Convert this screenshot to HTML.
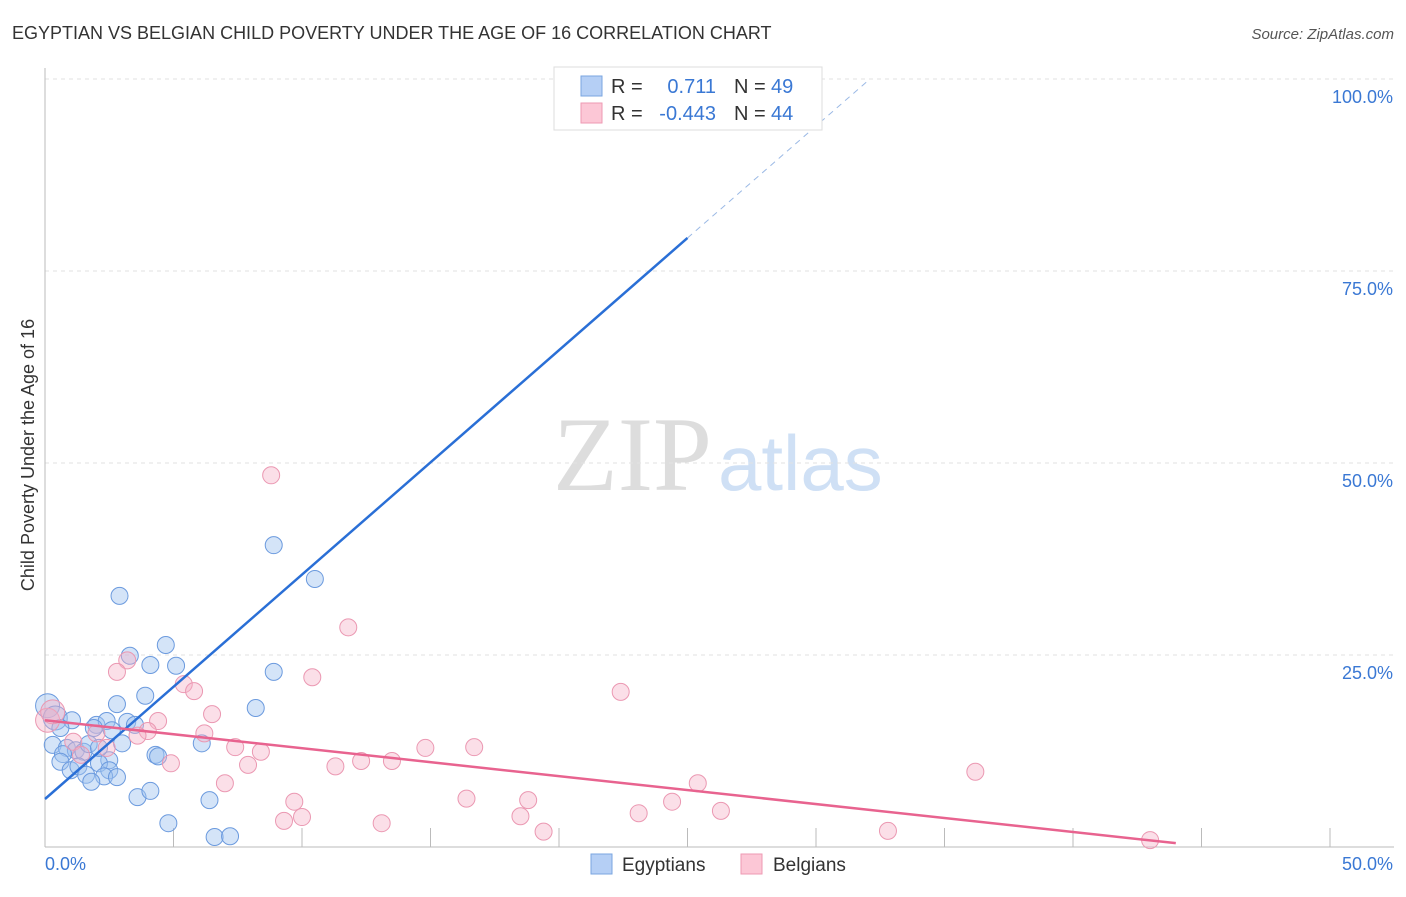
<!DOCTYPE html><html><head><meta charset="utf-8"><style>
body{margin:0;background:#fff;font-family:"Liberation Sans",sans-serif}
</style></head><body>
<svg width="1406" height="892" xmlns="http://www.w3.org/2000/svg" font-family="Liberation Sans, sans-serif">
<text x="12" y="39" font-size="18" fill="#333">EGYPTIAN VS BELGIAN CHILD POVERTY UNDER THE AGE OF 16 CORRELATION CHART</text>
<text x="1394" y="39" font-size="15" fill="#555" font-style="italic" text-anchor="end">Source: ZipAtlas.com</text>
<text x="553" y="490" font-size="106" fill="#ddd" font-family="Liberation Serif, serif">ZIP</text>
<text x="718" y="490" font-size="78" fill="#cfe0f5">atlas</text>
<g id="grid"></g><g id="axes"></g><g id="pts"></g><g id="lines"></g>
<text transform="translate(34,455) rotate(-90)" font-size="18" fill="#333" text-anchor="middle">Child Poverty Under the Age of 16</text>
<text x="45" y="870" font-size="18" fill="#3a78d4">0.0%</text>
<text x="1393" y="870" font-size="18" fill="#3a78d4" text-anchor="end">50.0%</text>
<g>
<rect x="554" y="67" width="268" height="63" fill="#fff" stroke="#ddd"/>
<rect x="581" y="76" width="21" height="20" fill="#b5cff5" stroke="#7aa6e0"/>
<rect x="581" y="103" width="21" height="20" fill="#fcc7d6" stroke="#ee9ab3"/>
<text x="611" y="93" font-size="20" fill="#333">R =</text><text x="716" y="93" font-size="20" fill="#3a78d4" text-anchor="end">0.711</text>
<text x="734" y="93" font-size="20" fill="#333">N =</text><text x="771" y="93" font-size="20" fill="#3a78d4">49</text>
<text x="611" y="120" font-size="20" fill="#333">R =</text><text x="716" y="120" font-size="20" fill="#3a78d4" text-anchor="end">-0.443</text>
<text x="734" y="120" font-size="20" fill="#333">N =</text><text x="771" y="120" font-size="20" fill="#3a78d4">44</text>
</g>
<g>
<rect x="591" y="854" width="21" height="20" fill="#b5cff5" stroke="#7aa6e0"/>
<text x="622" y="871" font-size="19" fill="#333">Egyptians</text>
<rect x="741" y="854" width="21" height="20" fill="#fcc7d6" stroke="#ee9ab3"/>
<text x="773" y="871" font-size="19" fill="#333">Belgians</text>
</g>
</svg>
<script>
const blueX=[20.4,8.9,10.5,2.9,4.7,3.3,4.1,5.1,8.9,3.9,2.8,8.2,0.1,0.4,1.05,2.0,2.4,3.2,3.5,1.9,6.1,3.0,0.3,0.85,1.2,1.5,0.7,0.6,2.5,2.1,4.3,4.4,1.0,1.3,2.5,2.3,2.8,1.6,1.8,3.6,4.1,6.4,4.8,6.6,7.2,1.7,0.6,2.6,2.1];
const blueY=[100,39.3,34.9,32.7,26.3,24.9,23.7,23.6,22.8,19.7,18.6,18.1,18.4,16.8,16.5,15.9,16.4,16.3,15.9,15.5,13.5,13.5,13.3,12.9,12.6,12.4,12.1,11.1,11.3,10.9,12.0,11.8,10.0,10.5,10.0,9.2,9.1,9.4,8.5,6.5,7.3,6.1,3.1,1.3,1.4,13.4,15.5,15.2,12.9];
const pinkX=[8.8,11.8,22.4,10.4,3.2,2.8,5.4,5.8,6.5,4.4,4.0,3.6,6.2,2.0,1.1,7.4,8.4,14.8,16.7,2.4,0.1,0.3,4.9,7.9,11.3,12.3,13.5,36.2,25.4,7.0,9.7,16.4,18.8,24.4,26.3,23.1,18.5,10.0,9.3,13.1,19.4,32.8,43.0,1.4];
const pinkY=[48.4,28.6,20.2,22.1,24.3,22.8,21.2,20.3,17.3,16.4,15.1,14.5,14.8,14.8,13.7,13.0,12.4,12.9,13.0,12.9,16.5,17.6,10.9,10.7,10.5,11.2,11.2,9.8,8.3,8.3,5.9,6.3,6.1,5.9,4.7,4.4,4.0,3.9,3.4,3.1,2.0,2.1,0.9,12.0];
const yTicks=[25,50,75,100];
const xTicks=[5,10,15,20,25,30,35,40,45,50];
const blueLine=[0,6.25,25,79.3,32.1,100];
const pinkLine=[0,16.5,44,0.5];
const NS="http://www.w3.org/2000/svg";
const sx=v=>45+v*25.7, sy=v=>847-v*7.68;
function mk(t,a,p){const e=document.createElementNS(NS,t);for(const k in a)e.setAttribute(k,a[k]);document.getElementById(p).appendChild(e);return e;}
yTicks.forEach(t=>{const l=mk('line',{x1:45,x2:1394,y1:sy(t),y2:sy(t),stroke:'#e2e2e2','stroke-dasharray':'4,4'},'grid');


const tx=mk('text',{x:1393,y:sy(t)+24,'font-size':18,fill:'#3a78d4','text-anchor':'end'},'grid');tx.textContent=t.toFixed(1)+'%';

});
mk('line',{x1:45,x2:45,y1:68,y2:847,stroke:'#bbb'},'axes');
mk('line',{x1:45,x2:1394,y1:847,y2:847,stroke:'#bbb'},'axes');
xTicks.forEach(t=>{const l=mk('line',{x1:sx(t),x2:sx(t),y1:828,y2:847,stroke:'#bbb'},'axes');

});
function pts(X,Y,f,s,n){X.forEach((x,i)=>{const big=(x<0.5&&Y[i]>15);const c=mk('circle',{cx:sx(x),cy:sy(Y[i]),r:big?12:8.5,fill:f,stroke:s,'stroke-width':1},'pts');

});}
pts(blueX,blueY,'rgba(160,196,240,0.45)','#6b9ade','egyptian-point');
pts(pinkX,pinkY,'rgba(246,176,198,0.4)','#eb98b2','belgian-point');
let a=mk('line',{x1:sx(blueLine[0]),y1:sy(blueLine[1]),x2:sx(blueLine[2]),y2:sy(blueLine[3]),stroke:'#2a6fd6','stroke-width':2.5},'lines');


let b=mk('line',{x1:sx(blueLine[2]),y1:sy(blueLine[3]),x2:sx(blueLine[4]),y2:sy(blueLine[5]),stroke:'#9bb9e5','stroke-width':1,'stroke-dasharray':'6,5'},'lines');


let c=mk('line',{x1:sx(pinkLine[0]),y1:sy(pinkLine[1]),x2:sx(pinkLine[2]),y2:sy(pinkLine[3]),stroke:'#e8638f','stroke-width':2.5},'lines');


</script></body></html>
